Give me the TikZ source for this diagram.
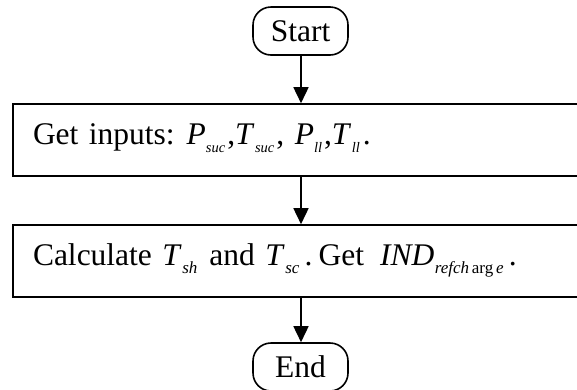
\documentclass[tikz,border=0pt]{standalone}
\usepackage{fontspec}
\setmainfont{Liberation Serif}
\usetikzlibrary{arrows.meta}

% italic symbol with a small italic subscript set below the baseline
\newcommand\sbs[2][17]{\raisebox{-8pt}{\fontsize{#1}{#1}\selectfont\itshape #2}}
\newcommand\var[3][0.5pt]{\textit{#2}\kern#1\sbs{#3}}
\newcommand\varsm[3][0.5pt]{\textit{#2}\kern#1\sbs[14.5]{#3}}

\tikzset{
  x=1pt, y=1pt,
  every node/.style={font=\fontsize{31.5}{36}\selectfont},
  terminal/.style={draw, line width=1.6pt, rounded corners=18pt,
    minimum width=95pt, minimum height=48pt, inner sep=0pt,
    text height=20pt, text depth=0pt},
  process/.style={draw, line width=1.6pt, minimum width=590pt,
    minimum height=72pt, inner xsep=20pt, inner ysep=0pt,
    text width=550pt, align=left, text height=12pt, text depth=4pt},
  flow/.style={line width=1.6pt, -{Triangle[length=16pt,width=15pt]}}
}

\begin{document}
\begin{tikzpicture}
  \path[use as bounding box, clip] (0,0) rectangle (577,-389);

  \node[terminal] (start) at (300.5,-31) {Start};
  \node[process] (inp) at (308,-140)
    {Get inputs:\hspace{12pt}\varsm[0pt]{P}{suc}\kern2pt,\varsm{T}{suc}\kern2pt, \varsm[0pt]{P}{ll}\kern2pt,\varsm{T}{ll}\kern3pt.};
  \node[process] (calc) at (308,-261)
    {Calculate \var{T}{sh}\hspace{12pt}and \var{T}{sc}\,.\hspace{6pt}Get\hspace{16pt}\var{IND}{refch\,\upshape arg\,\itshape e}\,.};
  \node[terminal] (stop) at (300.5,-367) {End};

  \draw[flow] (start.south -| 301,0) -- (inp.north -| 301,0);
  \draw[flow] (inp.south -| 301,0) -- (calc.north -| 301,0);
  \draw[flow] (calc.south -| 301,0) -- (stop.north -| 301,0);
\end{tikzpicture}
\end{document}
